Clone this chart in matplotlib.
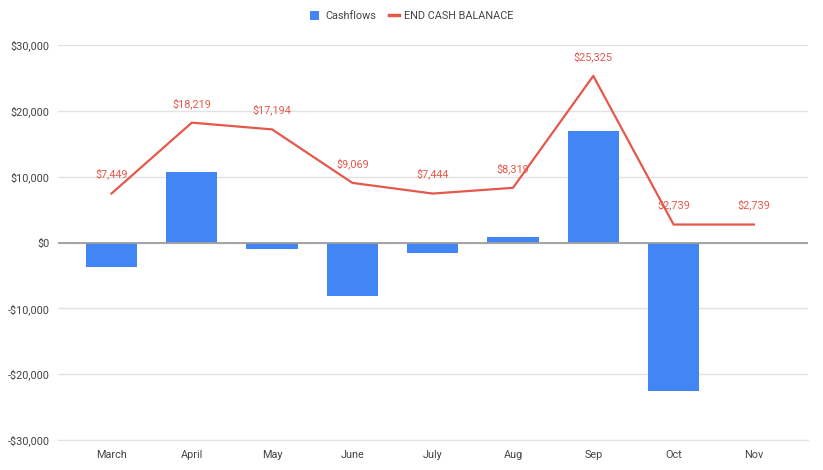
import matplotlib.pyplot as plt
import matplotlib.ticker as mticker
from matplotlib.lines import Line2D
from matplotlib.patches import Patch

months = ['March', 'April', 'May', 'June', 'July', 'Aug', 'Sep', 'Oct', 'Nov']
cashflows = [-3700, 10770, -1025, -8125, -1625, 875, 17006, -22586, 0]
end_balance = [7449, 18219, 17194, 9069, 7444, 8319, 25325, 2739, 2739]

bar_color = '#4285f4'
line_color = '#e5584c'

plt.rcParams['font.family'] = ['Roboto', 'DejaVu Sans']

fig = plt.figure(figsize=(8.23, 4.70), dpi=100)
ax = fig.add_axes([0.0705, 0.0638, 0.9113, 0.8402])

x = list(range(len(months)))
ax.bar(x, cashflows, width=0.64, color=bar_color, zorder=2)
ax.plot(x, end_balance, color=line_color, linewidth=1.6, zorder=3)

for xi, v in zip(x, end_balance):
    ax.annotate(f'${v:,}', (xi, v), xytext=(0, 10), textcoords='offset points',
                ha='center', va='bottom', fontsize=7.8, color=line_color, zorder=4)

ax.set_xlim(-0.666, 8.674)
ax.set_ylim(-30000, 30000)
ax.set_yticks(range(-30000, 30001, 10000))
ax.yaxis.set_major_formatter(mticker.FuncFormatter(
    lambda v, p: f'-${abs(int(v)):,}' if v < 0 else f'${int(v):,}'))
ax.set_xticks(x)
ax.set_xticklabels(months)
ax.tick_params(axis='both', length=0, labelsize=7.8, labelcolor='#444444')
ax.tick_params(axis='x', pad=7)
ax.tick_params(axis='y', pad=6)

ax.grid(axis='y', color='#e2e2e2', linewidth=1, zorder=0)
ax.axhline(0, color='#9e9e9e', linewidth=1.3, zorder=2.5)
for s in ['top', 'right', 'left']:
    ax.spines[s].set_visible(False)
ax.spines['bottom'].set_color('#e2e2e2')

handles = [Patch(facecolor=bar_color, label='Cashflows'),
           Line2D([0], [0], color=line_color, linewidth=2.5, label='END CASH BALANACE')]
fig.legend(handles=handles, loc='center', bbox_to_anchor=(0.5, 0.966), ncol=2,
           frameon=False, fontsize=7.8, handlelength=0.9, handleheight=0.9,
           columnspacing=1.2, handletextpad=0.5, labelcolor='#444444')

fig.savefig('out.png', dpi=100)
